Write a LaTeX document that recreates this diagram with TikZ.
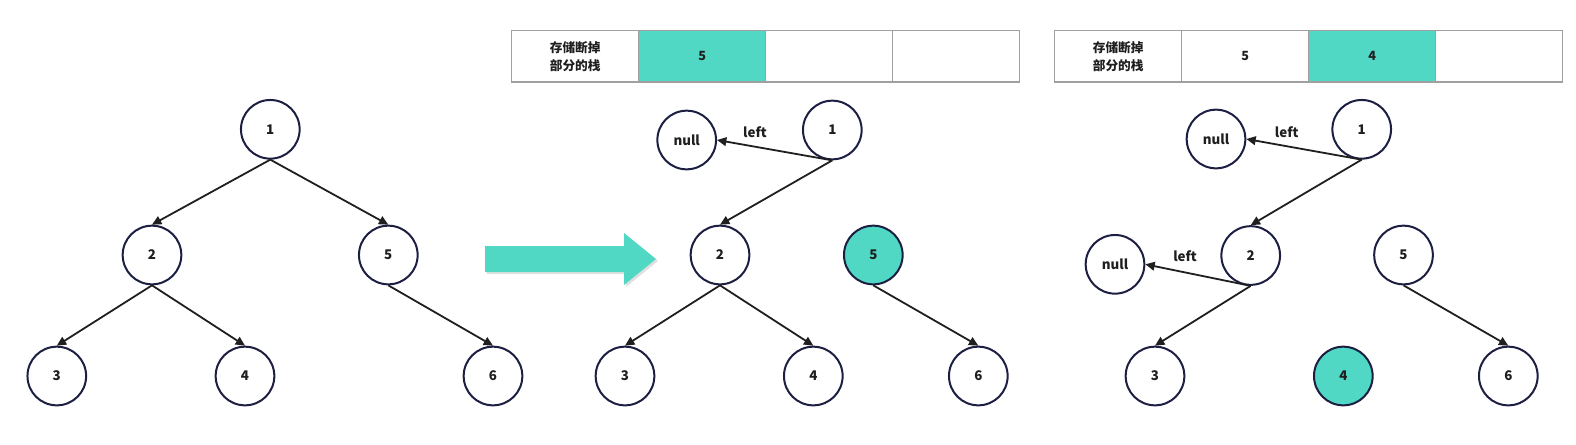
\documentclass[tikz,border=0pt]{standalone}
\usepackage{fontspec}
\setmainfont{Noto Sans CJK SC}
\usetikzlibrary{arrows.meta}
\definecolor{teal1}{RGB}{80,216,197}
\definecolor{navy}{RGB}{28,30,66}
\definecolor{cellgray}{RGB}{160,160,160}

\begin{document}
\begin{tikzpicture}[x=0.75pt,y=-0.75pt,font=\bfseries,line width=1.35pt,color=black!88,
  >={Triangle[length=7pt,width=6.5pt]},
  tn/.style={circle,draw=navy,line width=1.5pt,minimum size=44pt,inner sep=0pt,fill=white},
  hit/.style={tn,fill=teal1},
  cell/.style={draw=cellgray,line width=1.1pt,minimum width=95.25pt,minimum height=38.5pt,inner sep=0pt,align=center,font=\bfseries\fontsize{9.5}{13.5}\selectfont}]
\useasboundingbox (0,0) rectangle (1576,444);

%% left tree
\node[tn] (A1) at (270.3,129.3) {1};
\node[tn] (A2) at (152,255) {2};
\node[tn] (A5) at (388.3,255) {5};
\node[tn] (A3) at (56.8,376) {3};
\node[tn] (A4) at (245,376) {4};
\node[tn] (A6) at (493,376) {6};
%%% edges
\draw[->] (A1.south) -- (A2.north);
\draw[->] (A1.south) -- (A5.north);
\draw[->] (A2.south) -- (A3.north);
\draw[->] (A2.south) -- (A4.north);
\draw[->] (A5.south) -- (A6.north);

%% big arrow
\fill[black!12] (487,248) -- (626,248) -- (626,235) -- (658,261) -- (626,287) -- (626,274) -- (487,274) -- cycle;
\fill[teal1] (485,246) -- (624,246) -- (624,233) -- (656,259) -- (624,285) -- (624,272) -- (485,272) -- cycle;

%% middle stack
\node[cell] (Bs0) at (575.2,56.3) {存储断掉\\部分的栈};
\node[cell,fill=teal1] (Bs1) at (702.2,56.3) {5};
\node[cell] (Bs2) at (829.2,56.3) {};
\node[cell] (Bs3) at (956.2,56.3) {};
%% middle tree
\node[tn] (Bn) at (686.7,140) {null};
\node[tn] (B1) at (832.3,130) {1};
\node[tn] (B2) at (720,255) {2};
\node[hit] (B5) at (873.3,255) {5};
\node[tn] (B3) at (625,376) {3};
\node[tn] (B4) at (813.3,376) {4};
\node[tn] (B6) at (978.3,376) {6};
\node (Bl) at (755,131.7) {left};
%%% edges
\draw[->] (B1.south) -- (Bn.east);
\draw[->] (B1.south) -- (B2.north);
\draw[->] (B2.south) -- (B3.north);
\draw[->] (B2.south) -- (B4.north);
\draw[->] (B5.south) -- (B6.north);

%% right stack
\node[cell] (Cs0) at (1118.2,56.3) {存储断掉\\部分的栈};
\node[cell] (Cs1) at (1245.2,56.3) {5};
\node[cell,fill=teal1] (Cs2) at (1372.2,56.3) {4};
\node[cell] (Cs3) at (1499.2,56.3) {};
%% right tree
\node[tn] (Cn1) at (1216,139) {null};
\node[tn] (C1) at (1361.7,129.3) {1};
\node[tn] (Cn2) at (1115,264.3) {null};
\node[tn] (C2) at (1250.7,255.5) {2};
\node[tn] (C5) at (1403.5,255) {5};
\node[tn] (C3) at (1155,376) {3};
\node[hit] (C4) at (1343.3,376) {4};
\node[tn] (C6) at (1508.3,376) {6};
\node (Cl1) at (1286.7,131.7) {left};
\node (Cl2) at (1185,255.7) {left};
%%% edges
\draw[->] (C1.south) -- (Cn1.east);
\draw[->] (C1.south) -- (C2.north);
\draw[->] (C2.south) -- (Cn2.east);
\draw[->] (C2.south) -- (C3.north);
\draw[->] (C5.south) -- (C6.north);
\end{tikzpicture}
\end{document}
